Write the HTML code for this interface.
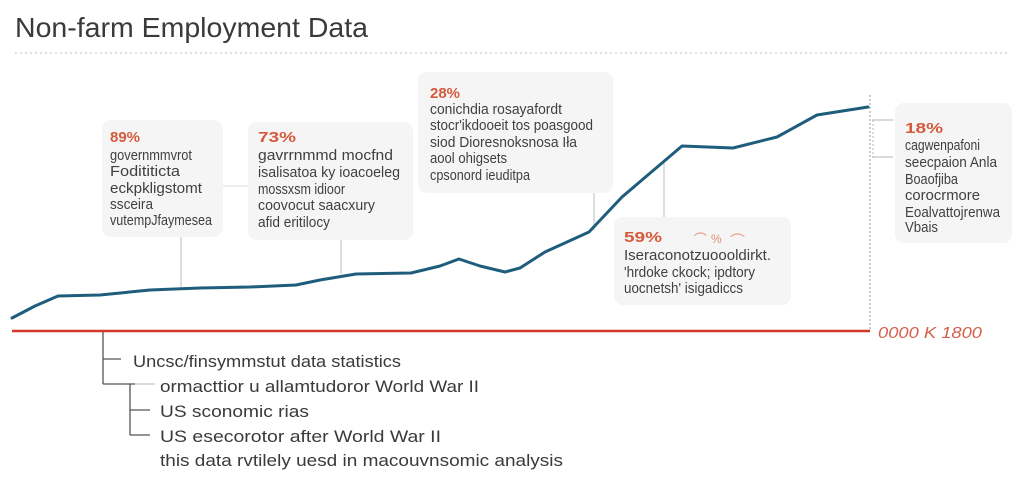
<!DOCTYPE html>
<html>
<head>
<meta charset="utf-8">
<style>
  html,body{margin:0;padding:0;background:#ffffff;}
  svg{display:block;}
  .t{font-family:"Liberation Sans",sans-serif;}
</style>
</head>
<body>
<svg width="1024" height="491" viewBox="0 0 1024 491" xmlns="http://www.w3.org/2000/svg">
  <rect x="0" y="0" width="1024" height="491" fill="#ffffff"/>

  <!-- Title -->
  <text class="t" x="15" y="37" font-size="28" fill="#3a3a3a" textLength="353" lengthAdjust="spacingAndGlyphs">Non-farm Employment Data</text>
  <line x1="15" y1="53" x2="1010" y2="53" stroke="#bdbdbd" stroke-width="1" stroke-dasharray="2,3"/>

  <!-- Boxes -->
  <rect x="102" y="120" width="121" height="117" rx="9" fill="#f5f5f5"/>
  <rect x="248" y="122" width="165" height="118" rx="9" fill="#f5f5f5"/>
  <rect x="418" y="72" width="195" height="121" rx="9" fill="#f5f5f5"/>
  <rect x="614" y="217" width="177" height="88" rx="9" fill="#f5f5f5"/>
  <rect x="895" y="103" width="117" height="140" rx="9" fill="#f5f5f5"/>

  <!-- connectors -->
  <line x1="223" y1="186" x2="248" y2="186" stroke="#e2e2e2" stroke-width="1.2"/>
  <line x1="181" y1="237" x2="181" y2="289" stroke="#c8c8c8" stroke-width="1.2"/>
  <line x1="341" y1="240" x2="341" y2="274" stroke="#c8c8c8" stroke-width="1.2"/>
  <line x1="594" y1="193" x2="594" y2="230" stroke="#c8c8c8" stroke-width="1.2"/>
  <line x1="664" y1="163" x2="664" y2="217" stroke="#c8c8c8" stroke-width="1.2"/>
  <line x1="870" y1="95" x2="870" y2="330" stroke="#9a9a9a" stroke-width="1" stroke-dasharray="2,2"/>
  <line x1="872" y1="120" x2="893" y2="120" stroke="#b5b5b5" stroke-width="1"/>
  <line x1="872" y1="157" x2="893" y2="157" stroke="#b5b5b5" stroke-width="1"/>
  <line x1="873" y1="120" x2="873" y2="157" stroke="#b5b5b5" stroke-width="1" stroke-dasharray="2,2"/>

  <!-- Data line -->
  <polyline fill="none" stroke="#1f5d7c" stroke-width="3" stroke-linejoin="round" stroke-linecap="round"
    points="12,318 35,306 58,296 100,295 150,290 200,288 250,287 296,285 320,280 356,274 411,273 440,266 459,259 480,266 505,272 520,268 545,252 589,232 622,197 662,163 682,146 733,148 777,137 817,115 868,107"/>

  <!-- Red baseline -->
  <line x1="12" y1="331" x2="870" y2="331" stroke="#d2392a" stroke-width="2.5"/>
  <text class="t" x="878" y="338" font-size="16" font-style="italic" fill="#d4604c" textLength="104" lengthAdjust="spacingAndGlyphs">0000 K 1800</text>

  <!-- Box 1 -->
  <g class="t" fill="#404040" font-size="15">
    <text x="110" y="142" font-size="15" font-weight="600" fill="#d65a3c" textLength="30" lengthAdjust="spacingAndGlyphs">89%</text>
    <text x="110" y="160" textLength="82" lengthAdjust="spacingAndGlyphs">governmmvrot</text>
    <text x="110" y="176" textLength="70" lengthAdjust="spacingAndGlyphs">Fodititicta</text>
    <text x="110" y="193" textLength="92" lengthAdjust="spacingAndGlyphs">eckpkligstomt</text>
    <text x="110" y="209" textLength="43" lengthAdjust="spacingAndGlyphs">ssceira</text>
    <text x="110" y="225" textLength="102" lengthAdjust="spacingAndGlyphs">vutempJfaymesea</text>
  </g>

  <!-- Box 2 -->
  <g class="t" fill="#404040" font-size="15">
    <text x="258" y="142" font-size="15" font-weight="600" fill="#d65a3c" textLength="38" lengthAdjust="spacingAndGlyphs">73%</text>
    <text x="258" y="160" textLength="135" lengthAdjust="spacingAndGlyphs">gavrrnmmd mocfnd</text>
    <text x="258" y="177" textLength="142" lengthAdjust="spacingAndGlyphs">isalisatoa ky ioacoeleg</text>
    <text x="258" y="194" textLength="87" lengthAdjust="spacingAndGlyphs">mossxsm idioor</text>
    <text x="258" y="210" textLength="117" lengthAdjust="spacingAndGlyphs">coovocut saacxury</text>
    <text x="258" y="227" textLength="72" lengthAdjust="spacingAndGlyphs">afid eritilocy</text>
  </g>

  <!-- Box 3 -->
  <g class="t" fill="#404040" font-size="14.5">
    <text x="430" y="98" font-size="15" font-weight="600" fill="#d65a3c" textLength="30" lengthAdjust="spacingAndGlyphs">28%</text>
    <text x="430" y="114" textLength="132" lengthAdjust="spacingAndGlyphs">conichdia rosayafordt</text>
    <text x="430" y="130" textLength="163" lengthAdjust="spacingAndGlyphs">stocr'ikdooeit tos poasgood</text>
    <text x="430" y="147" textLength="147" lengthAdjust="spacingAndGlyphs">siod Dioresnoksnosa Iła</text>
    <text x="430" y="163" textLength="77" lengthAdjust="spacingAndGlyphs">aool ohigsets</text>
    <text x="430" y="180" textLength="100" lengthAdjust="spacingAndGlyphs">cpsonord ieuditpa</text>
  </g>

  <!-- Box 4 -->
  <g class="t" fill="#404040" font-size="14.5">
    <text x="624" y="242" font-size="15" font-weight="600" fill="#d65a3c" textLength="38" lengthAdjust="spacingAndGlyphs">59%</text>
    <text x="694" y="244" font-size="13" fill="#e07a5a" opacity="0.85">⌒</text>
    <text x="711" y="243" font-size="12" fill="#e07a5a" opacity="0.85">%</text>
    <text x="730" y="246" font-size="15" fill="#e07a5a" opacity="0.7">⌒</text>
    <text x="624" y="260" textLength="147" lengthAdjust="spacingAndGlyphs">Iseraconotzuoooldirkt.</text>
    <text x="624" y="277" textLength="131" lengthAdjust="spacingAndGlyphs">'hrdoke ckock; ipdtory</text>
    <text x="624" y="293" textLength="119" lengthAdjust="spacingAndGlyphs">uocnetsh' isigadiccs</text>
  </g>

  <!-- Box 5 -->
  <g class="t" fill="#404040" font-size="14.5">
    <text x="905" y="133" font-size="15" font-weight="600" fill="#d65a3c" textLength="38" lengthAdjust="spacingAndGlyphs">18%</text>
    <text x="905" y="150" textLength="75" lengthAdjust="spacingAndGlyphs">cagwenpafoni</text>
    <text x="905" y="167" textLength="92" lengthAdjust="spacingAndGlyphs">seecpaion Anla</text>
    <text x="905" y="184" textLength="53" lengthAdjust="spacingAndGlyphs">Boaofjiba</text>
    <text x="905" y="200" textLength="75" lengthAdjust="spacingAndGlyphs">corocrmore</text>
    <text x="905" y="217" textLength="95" lengthAdjust="spacingAndGlyphs">Eoalvattojrenwa</text>
    <text x="905" y="232" textLength="33" lengthAdjust="spacingAndGlyphs">Vbais</text>
  </g>

  <!-- Bottom tree -->
  <g stroke="#555" stroke-width="1.3" fill="none">
    <line x1="103" y1="332" x2="103" y2="384"/>
    <line x1="103" y1="359" x2="121" y2="359"/>
    <line x1="103" y1="384" x2="135" y2="384"/>
    <line x1="130" y1="384" x2="130" y2="435"/>
    <line x1="130" y1="410" x2="150" y2="410"/>
    <line x1="130" y1="435" x2="150" y2="435"/>
  </g>
  <line x1="135" y1="384" x2="155" y2="384" stroke="#c8c8c8" stroke-width="1.3"/>

  <g class="t" fill="#3a3a3a" font-size="17">
    <text x="133" y="367" textLength="268" lengthAdjust="spacingAndGlyphs">Uncsc/finsymmstut data statistics</text>
    <text x="160" y="392" textLength="319" lengthAdjust="spacingAndGlyphs">ormacttior u allamtudoror World War II</text>
    <text x="160" y="417" textLength="149" lengthAdjust="spacingAndGlyphs">US sconomic rias</text>
    <text x="160" y="442" textLength="281" lengthAdjust="spacingAndGlyphs">US esecorotor after World War II</text>
    <text x="160" y="466" textLength="403" lengthAdjust="spacingAndGlyphs">this data rvtilely uesd in macouvnsomic analysis</text>
  </g>
</svg>
</body>
</html>
